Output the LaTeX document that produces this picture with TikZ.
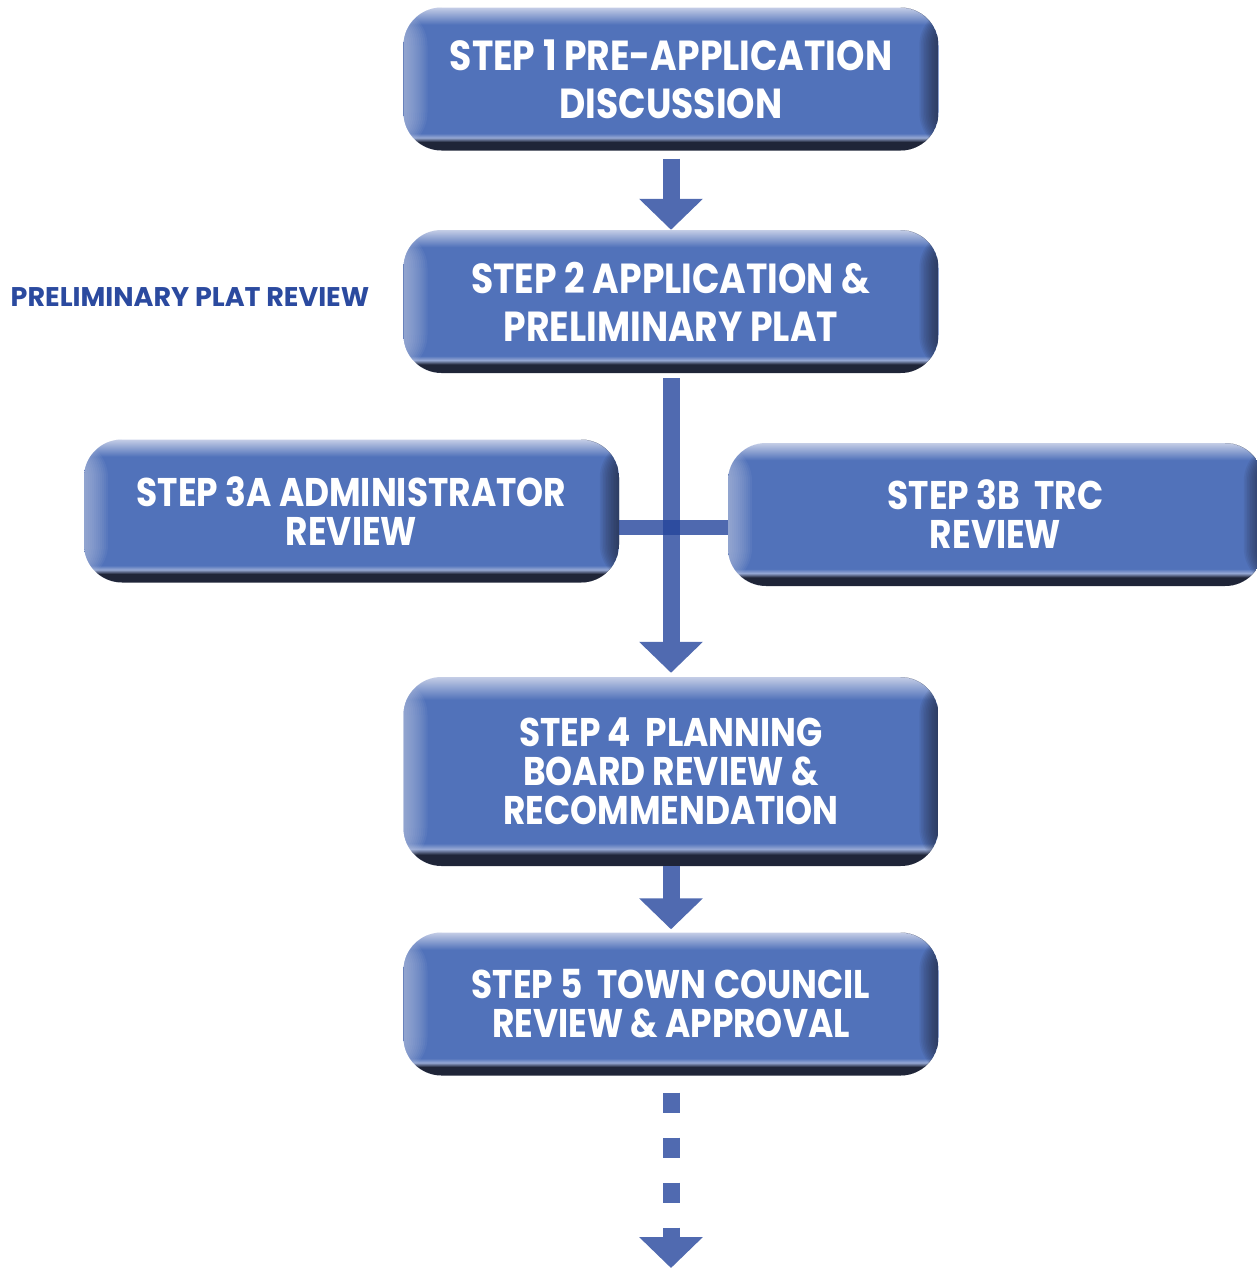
\documentclass[tikz,border=0pt]{standalone}
\usepackage{fontspec}
\newfontfamily\stepfont{Poppins}[FakeStretch=0.86]
\newfontfamily\phasefont{Poppins}
\usetikzlibrary{arrows.meta}
\definecolor{stepblue}{RGB}{81,114,186}
\definecolor{steplight}{RGB}{196,205,230}
\definecolor{stepdark}{RGB}{31,37,56}
\definecolor{flowblue}{RGB}{80,106,176}
\definecolor{crossblue}{RGB}{38,70,156}
\definecolor{labelblue}{RGB}{43,74,159}
\pgfdeclareverticalshading{stepbevel}{100bp}{color(0bp)=(stepdark); color(28bp)=(stepdark); color(29.5bp)=(steplight!60!stepblue); color(31bp)=(stepblue); color(69bp)=(stepblue); color(75bp)=(steplight); color(100bp)=(steplight)}
\tikzset{
  stepbox/.style={rounded corners=38pt, shade, shading=stepbevel, minimum width=535pt, minimum height=143pt,
    text=white, align=center, inner sep=0pt, font=\stepfont\bfseries\fontsize{42}{48}\selectfont,
    path picture={
      \foreach \i in {1,...,12}{
        \fill[steplight, opacity=0.07] (path picture bounding box.south west) rectangle ([xshift=2*\i pt]path picture bounding box.north west);
        \fill[stepdark, opacity=0.08] ([xshift=-1.6*\i pt]path picture bounding box.south east) rectangle (path picture bounding box.north east);
      }
    }},
  tightstep/.style={stepbox, font=\stepfont\bfseries\fontsize{40}{39}\selectfont},
  phaselabel/.style={text=labelblue, font=\phasefont\bfseries\fontsize{27}{32}\selectfont},
  flow/.style={draw=flowblue, line width=17pt, -{Triangle[width=62pt,length=31pt]}},
  crossbar/.style={draw=crossblue, opacity=0.81, line width=15pt},
}
\begin{document}
\begin{tikzpicture}[x=1pt,y=-1pt]
  \useasboundingbox (0,0) rectangle (1257,1269);
  \node[stepbox] (s1) at (671,79) {STEP 1 PRE-APPLICATION\\DISCUSSION};
  \node[stepbox] (s2) at (671,301.5) {STEP 2 APPLICATION \&\\PRELIMINARY PLAT};
  \node[tightstep] (s3a) at (351.5,511) {STEP 3A ADMINISTRATOR\\REVIEW};
  \node[tightstep] (s3b) at (995.5,514.5) {STEP 3B\ \ TRC\\REVIEW};
  \node[tightstep, minimum height=189pt] (s4) at (671,771.5) {STEP 4\ \ PLANNING\\BOARD REVIEW \&\\RECOMMENDATION};
  \node[tightstep] (s5) at (671,1004) {STEP 5\ \ TOWN COUNCIL\\REVIEW \& APPROVAL};
  \node[phaselabel] (phase) at (190,297) {PRELIMINARY PLAT REVIEW};
  \coordinate (hub) at (671,527.5);
  \coordinate (outlet) at (671,1268);
  \draw[flow] ([yshift=-8pt]s1.south) -- (s2.north);
  \draw[flow] ([yshift=-5pt]s2.south) -- ([yshift=4pt]s4.north);
  \draw[crossbar] (s3a.east |- hub) -- (s3b.west |- hub);
  \draw[flow] (s4.south) -- ([yshift=3pt]s5.north);
  \draw[flow, dash pattern=on 20pt off 25pt] ([yshift=-17pt]s5.south) -- (outlet);
\end{tikzpicture}
\end{document}
